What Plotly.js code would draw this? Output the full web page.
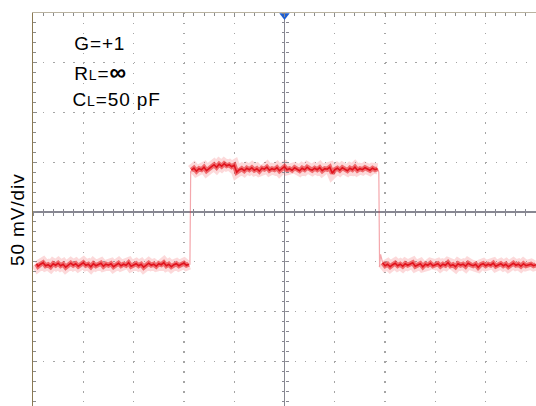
<!DOCTYPE html>
<html>
<head>
<meta charset="utf-8">
<script src="https://cdn.plot.ly/plotly-3.0.1.min.js"></script>
<style>
  html, body { margin: 0; padding: 0; background: #ffffff; overflow: hidden; }
  #scope { width: 536px; height: 406px; }
</style>
</head>
<body>
<div id="scope"></div>
<script>
// Scope capture of the buffer step response, in screen divisions
// (horizontal: time/div, vertical: 50 mV/div, 0 = screen centre).

// baseline before the step
const tLowA = [-4.93,-4.90,-4.85,-4.80,-4.75,-4.70,-4.65,-4.60,-4.55,-4.50,
  -4.45,-4.40,-4.35,-4.30,-4.25,-4.20,-4.15,-4.10,-4.05,-4.00,
  -3.95,-3.90,-3.85,-3.80,-3.75,-3.70,-3.65,-3.60,-3.55,-3.50,
  -3.45,-3.40,-3.35,-3.30,-3.25,-3.20,-3.15,-3.10,-3.05,-3.00,
  -2.95,-2.90,-2.85,-2.80,-2.75,-2.70,-2.65,-2.60,-2.55,-2.50,
  -2.45,-2.40,-2.35,-2.30,-2.25,-2.20,-2.15,-2.10,-2.05,-2.00,
  -1.95,-1.90];
const vLowA = [-1.04,-1.09,-1.05,-1.02,-1.08,-1.06,-1.10,-1.04,-1.07,-1.03,
  -1.08,-1.05,-1.11,-1.06,-1.03,-1.07,-1.04,-1.09,-1.06,-1.02,
  -1.07,-1.05,-1.10,-1.04,-1.08,-1.06,-1.03,-1.09,-1.05,-1.07,
  -1.04,-1.10,-1.06,-1.03,-1.08,-1.05,-1.07,-1.02,-1.09,-1.06,
  -1.04,-1.08,-1.05,-1.11,-1.06,-1.03,-1.07,-1.05,-1.09,-1.04,
  -1.06,-1.02,-1.08,-1.05,-1.10,-1.06,-1.04,-1.08,-1.05,-1.03,
  -1.07,-1.05];

// rising edge
const tRise = [-1.90,-1.88,-1.865,-1.85];
const vRise = [-1.05,-1.05,0.80,0.84];

// top of the pulse
const tHigh = [-1.85,-1.80,-1.75,-1.70,-1.65,-1.60,-1.55,-1.50,-1.45,-1.40,
  -1.35,-1.30,-1.25,-1.20,-1.15,-1.10,-1.05,-1.00,-0.95,-0.90,
  -0.85,-0.80,-0.75,-0.70,-0.65,-0.60,-0.55,-0.50,-0.45,-0.40,
  -0.35,-0.30,-0.25,-0.20,-0.15,-0.10,-0.05,0.00,0.05,0.10,
  0.15,0.20,0.25,0.30,0.35,0.40,0.45,0.50,0.55,0.60,
  0.65,0.70,0.75,0.80,0.85,0.90,0.95,1.00,1.05,1.10,
  1.15,1.20,1.25,1.30,1.35,1.40,1.45,1.50,1.55,1.60,
  1.65,1.70,1.75,1.80,1.85];
const vHigh = [0.84,0.88,0.82,0.87,0.85,0.90,0.83,0.88,
  0.91,0.95,0.90,0.96,0.92,0.97,0.93,0.95,0.91,0.94,
  0.80,0.85,
  0.87,0.83,0.88,0.85,0.89,0.84,0.87,0.82,0.88,0.86,
  0.90,0.84,0.87,0.85,0.89,0.83,0.88,0.91,0.85,0.87,
  0.84,0.89,0.86,0.83,0.88,0.85,0.90,0.86,0.84,0.88,
  0.85,0.89,0.83,0.87,0.86,0.90,0.78,0.85,0.88,0.84,
  0.89,0.86,0.83,0.88,0.85,0.90,0.84,0.87,0.85,0.89,
  0.86,0.84,0.88,0.85,0.87];

// falling edge
const tFall = [1.85,1.875,1.89,1.91,1.95];
const vFall = [0.87,0.80,-1.10,-0.85,-1.02];

// baseline after the step
const tLowB = [1.95,2.00,2.05,2.10,2.15,2.20,2.25,2.30,2.35,2.40,
  2.45,2.50,2.55,2.60,2.65,2.70,2.75,2.80,2.85,2.90,
  2.95,3.00,3.05,3.10,3.15,3.20,3.25,3.30,3.35,3.40,
  3.45,3.50,3.55,3.60,3.65,3.70,3.75,3.80,3.85,3.90,
  3.95,4.00,4.05,4.10,4.15,4.20,4.25,4.30,4.35,4.40,
  4.45,4.50,4.55,4.60,4.65,4.70,4.75,4.80,4.85,4.90,
  4.95,5.00];
const vLowB = [-1.02,-1.08,-1.05,-1.10,-1.06,-1.03,-1.08,-1.05,-1.09,-1.04,
  -1.07,-1.05,-1.02,-1.09,-1.06,-1.04,-1.10,-1.05,-1.07,-1.03,
  -1.08,-1.06,-1.04,-1.09,-1.05,-1.07,-1.02,-1.08,-1.06,-1.10,
  -1.04,-1.07,-1.05,-1.09,-1.03,-1.06,-1.08,-1.05,-1.11,-1.06,
  -1.04,-1.08,-1.05,-1.07,-1.03,-1.09,-1.06,-1.04,-1.08,-1.05,
  -1.10,-1.06,-1.03,-1.07,-1.05,-1.09,-1.04,-1.08,-1.06,-1.05,
  -1.08,-1.06];

// trigger marker position
const trigT = [0];
const trigV = [3.95];

const labelLines = ['G=+1',
  'R<span style="font-size:14px">L</span>=<span style="font-size:23px"><b>∞</b></span>',
  'C<span style="font-size:14px">L</span>=50 pF'];
const scaleLabel = '50 mV/div';

const xRange = [-5, 5];
const yRange = [-3.9, 4];

const RED_CORE = 'rgb(224,18,28)';

// noisy trace drawn as a soft halo plus a sharp core
function band(t, v) {
  return [
    { x: t, y: v, mode: 'lines', line: { color: 'rgba(240,80,85,0.22)', width: 11 }, hoverinfo: 'skip' },
    { x: t, y: v, mode: 'lines', line: { color: 'rgba(230,35,40,0.6)', width: 5 }, hoverinfo: 'skip' },
    { x: t, y: v, mode: 'lines', line: { color: RED_CORE, width: 1.6 }, hoverinfo: 'skip' }
  ];
}

function edge(t, v) {
  return { x: t, y: v, mode: 'lines', xaxis: 'x2', yaxis: 'y2',
           line: { color: 'rgba(230,60,70,0.45)', width: 1.2 }, hoverinfo: 'skip' };
}

const traces = []
  .concat(band(tLowA, vLowA))
  .concat(band(tHigh, vHigh))
  .concat(band(tLowB, vLowB))
  .concat([edge(tRise, vRise), edge(tFall, vFall)])
  .concat([{
    x: trigT, y: trigV, mode: 'markers', xaxis: 'x3', yaxis: 'y3', cliponaxis: false,
    marker: { symbol: 'triangle-down', size: 9, color: 'rgb(30,95,210)' }, hoverinfo: 'skip'
  }]);

const GRID = 'rgb(165,165,165)';
const CENTRE = 'rgb(135,135,145)';
const TICK = 'rgb(140,140,140)';
const centreY = (0 - yRange[0]) / (yRange[1] - yRange[0]);

// centre-line graticule ticks: one axis ticking each way
function centreX(dir) {
  return { overlaying: 'x', anchor: 'free', position: centreY, side: 'bottom', range: xRange,
           dtick: 0.2, tick0: 0, ticks: dir, ticklen: 3, tickwidth: 1, tickcolor: CENTRE,
           showticklabels: false, showgrid: false, zeroline: false, showline: false, fixedrange: true };
}
function centreYAxis(dir) {
  return { overlaying: 'y', anchor: 'free', position: 0.5, side: 'left', range: yRange,
           dtick: 0.2, tick0: 0, ticks: dir, ticklen: 3, tickwidth: 1, tickcolor: CENTRE,
           showticklabels: false, showgrid: false, zeroline: false, showline: false, fixedrange: true };
}

const annFont = { family: 'Liberation Sans, Arial, sans-serif', size: 19, color: '#000000' };
const annY = [0.9214, 0.8499, 0.7794];

const annotations = labelLines.map((txt, i) => ({
  text: txt, xref: 'paper', yref: 'paper', x: 0.0815, y: annY[i],
  xanchor: 'left', yanchor: 'middle', showarrow: false, font: annFont
}));
annotations.push({
  text: scaleLabel, xref: 'paper', yref: 'paper', x: -0.0308, y: 0.4746,
  xanchor: 'center', yanchor: 'middle', textangle: -90, showarrow: false, font: annFont
});

const layout = {
  width: 536, height: 406,
  margin: { l: 33, r: 0, t: 13, b: 0, pad: 0 },
  paper_bgcolor: '#ffffff', plot_bgcolor: '#ffffff',
  showlegend: false,
  xaxis: {
    range: xRange, dtick: 1, tick0: 0, side: 'top',
    showgrid: true, gridcolor: GRID, gridwidth: 1.4, griddash: '1.4px,8.55px',
    zeroline: true, zerolinecolor: CENTRE, zerolinewidth: 1.5,
    showline: true, linecolor: 'rgb(185,178,160)', linewidth: 1.5, mirror: false,
    ticks: 'inside', ticklen: 4, tickcolor: TICK,
    minor: { dtick: 0.2, ticks: 'inside', ticklen: 3, tickcolor: TICK, showgrid: false },
    showticklabels: false, fixedrange: true
  },
  yaxis: {
    range: yRange, dtick: 1, tick0: 0,
    showgrid: true, gridcolor: GRID, gridwidth: 1.4, griddash: '1.4px,8.66px',
    zeroline: true, zerolinecolor: CENTRE, zerolinewidth: 1.5,
    showline: true, linecolor: 'rgb(140,122,82)', linewidth: 1.5,
    ticks: 'inside', ticklen: 4, tickcolor: TICK,
    minor: { dtick: 0.2, ticks: 'inside', ticklen: 3, tickcolor: TICK, showgrid: false },
    showticklabels: false, fixedrange: true
  },
  xaxis2: centreX('outside'),
  xaxis3: centreX('inside'),
  yaxis2: centreYAxis('outside'),
  yaxis3: centreYAxis('inside'),
  annotations: annotations
};

Plotly.newPlot('scope', traces, layout, { staticPlot: true, displayModeBar: false }).then(() => {
  // the scope font is tracked a little wider than the stock face
  document.querySelectorAll('#scope .annotation-text').forEach(el => {
    el.style.letterSpacing = '0.9px';
  });
});
</script>
</body>
</html>
